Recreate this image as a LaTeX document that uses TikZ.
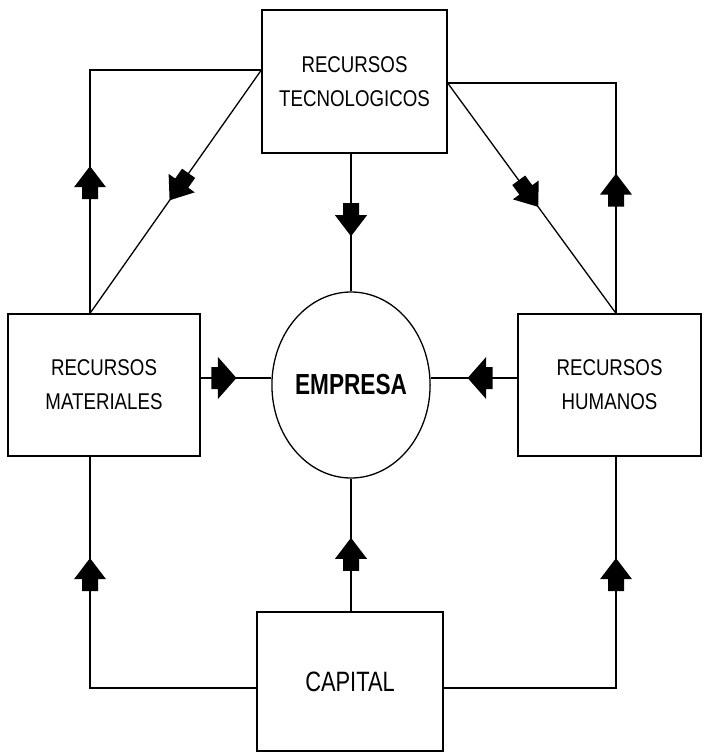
\documentclass[tikz,border=0pt]{standalone}
\usepackage{fontspec}
\usetikzlibrary{shapes.geometric}
\newfontfamily\labelfont[FakeStretch=0.82]{Liberation Sans}
\newfontfamily\titlefont[FakeStretch=0.78]{Liberation Sans}
\begin{document}
\begin{tikzpicture}[x=0.5pt,y=-0.5pt,line width=0.65pt,
  box/.style={draw,rectangle,inner sep=0pt,align=center,
    font=\labelfont\fontsize{11.4}{17}\selectfont},
  oval/.style={draw,ellipse,inner sep=0pt,
    font=\titlefont\bfseries\fontsize{14.5}{17}\selectfont},
  mark on line/.style={sloped,allow upside down},
  pics/varrow/.style={code={%
    \fill (-16.5,-8) -- (-4.5,-8) -- (-4.5,-16) -- (16.5,0)
      -- (-4.5,16) -- (-4.5,8) -- (-16.5,8) -- cycle;}},
  pics/harrow/.style={code={%
    \fill (-12.5,-11) -- (-6,-11) -- (-6,-21) -- (12.5,0)
      -- (-6,21) -- (-6,11) -- (-12.5,11) -- cycle;}}]
\useasboundingbox (0,0) rectangle (703,753);

% boxes and the central oval
\node[box,minimum width=92.5pt,minimum height=71.5pt] (tec) at (354.5,81.5) {RECURSOS\\TECNOLOGICOS};
\node[box,minimum width=96pt,minimum height=71pt] (mat) at (104,385) {RECURSOS\\MATERIALES};
\node[box,minimum width=91.5pt,minimum height=71pt] (hum) at (609.5,385) {RECURSOS\\HUMANOS};
\node[box,minimum width=93pt,minimum height=69.5pt,
  font=\titlefont\fontsize{14}{17}\selectfont] (cap) at (350,681.5) {CAPITAL};
\node[oval,minimum width=66pt,minimum height=93pt] (emp) at (351,385) {EMPRESA};

% corner points of the outer loops
\coordinate (ltop) at (90,70);
\coordinate (rtop) at (616,83);
\coordinate (lbot) at (90,688);
\coordinate (rbot) at (616,688);
\coordinate (hy) at (0,378);

% outer loop, top half
\draw (mat.north -| ltop) -- (ltop) pic[pos=0.537,mark on line]{varrow} -- (ltop -| tec.west);
\draw (hum.north -| rtop) -- (rtop) pic[pos=0.535,mark on line]{varrow} -- (rtop -| tec.east);
\draw (ltop -| tec.west) -- (mat.north -| ltop) pic[pos=0.48,mark on line]{varrow};
\draw (rtop -| tec.east) -- (hum.north -| rtop) pic[pos=0.48,mark on line]{varrow};

% links into the oval
\draw (emp.north |- tec.south) -- (emp.north) pic[pos=0.48,mark on line]{varrow};
\draw (mat.east |- hy) -- (emp.west |- hy) pic[pos=0.33,mark on line]{harrow};
\draw (hum.west |- hy) -- (emp.east |- hy) pic[pos=0.43,mark on line]{harrow};
\draw (emp.south |- cap.north) -- (emp.south) pic[pos=0.43,mark on line]{varrow};

% outer loop, bottom half
\draw (cap.west |- lbot) -- (lbot) -- (mat.south -| lbot) pic[pos=0.49,mark on line]{varrow};
\draw (cap.east |- rbot) -- (rbot) -- (hum.south -| rbot) pic[pos=0.49,mark on line]{varrow};
\end{tikzpicture}
\end{document}
